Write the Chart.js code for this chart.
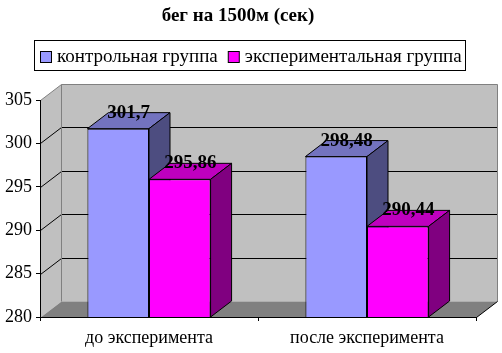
<!DOCTYPE html>
<html>
<head>
<meta charset="utf-8">
<script src="https://cdn.jsdelivr.net/npm/chart.js@4"></script>
<style>
  html, body { margin: 0; padding: 0; background: #fff; }
  #wrap { width: 502px; height: 353px; }
</style>
</head>
<body>
<div id="wrap"><canvas id="chart"></canvas></div>
<script>
// data
const categories = ["до эксперимента", "после эксперимента"];
const seriesNames = ["контрольная группа", "экспериментальная группа"];
const controlValues = [301.7, 298.48];
const experimentValues = [295.86, 290.44];
const yTicks = [280, 285, 290, 295, 300, 305];

// colours: front, top, side
const frontColors = ["#9999ff", "#ff00ff"];
const topColors = ["#7373bf", "#bf00bf"];
const sideColors = ["#4d4d80", "#800080"];

const depth = { dx: 21, dy: -16 };
const serif = "'Liberation Serif', 'Times New Roman', serif";

function poly(ctx, pts, fill, stroke) {
  ctx.beginPath();
  ctx.moveTo(pts[0][0], pts[0][1]);
  for (let i = 1; i < pts.length; i++) ctx.lineTo(pts[i][0], pts[i][1]);
  ctx.closePath();
  if (fill) { ctx.fillStyle = fill; ctx.fill(); }
  if (stroke) { ctx.strokeStyle = stroke; ctx.lineWidth = 1; ctx.stroke(); }
}

function line(ctx, x1, y1, x2, y2, color) {
  ctx.beginPath();
  ctx.moveTo(x1, y1);
  ctx.lineTo(x2, y2);
  ctx.strokeStyle = color;
  ctx.lineWidth = 1;
  ctx.stroke();
}

// walls, floor, grid, bar depth, value labels, legend
const walls3d = {
  id: "walls3d",
  beforeDraw(chart) {
    const { ctx, chartArea: a, scales: { y } } = chart;
    const { dx, dy } = depth;
    const L = a.left + 0.5, R = a.right + 0.5, T = a.top + 0.5, B = a.bottom + 0.5;
    ctx.save();
    poly(ctx, [[L, T], [L + dx, T + dy], [L + dx, B + dy], [L, B]], "#c0c0c0");
    poly(ctx, [[L + dx, T + dy], [R + dx, T + dy], [R + dx, B + dy], [L + dx, B + dy]], "#c0c0c0");
    poly(ctx, [[L, B], [R, B], [R + dx, B + dy], [L + dx, B + dy]], "#808080");

    yTicks.forEach(v => {
      if (v === yTicks[0] || v === yTicks[yTicks.length - 1]) return;
      const py = Math.round(y.getPixelForValue(v)) + 0.5;
      line(ctx, L, py, L + dx, py + dy, "#000");
      line(ctx, L + dx, py + dy, R + dx, py + dy, "#000");
    });
    // wall edges
    line(ctx, L, T, L + dx, T + dy, "#808080");
    line(ctx, L + dx, T + dy, R + dx, T + dy, "#808080");
    line(ctx, R + dx, T + dy, R + dx, B + dy, "#808080");
    line(ctx, L + dx, T + dy, L + dx, B + dy, "#808080");
    line(ctx, R, B, R + dx, B + dy, "#000");
    ctx.restore();
  },
  beforeDatasetsDraw(chart) {
    const { ctx, chartArea } = chart;
    const { dx, dy } = depth;
    ctx.save();
    chart.data.datasets.forEach((ds, i) => {
      chart.getDatasetMeta(i).data.forEach(bar => {
        const { x, y, base, width } = bar.getProps(["x", "y", "base", "width"], true);
        const b = Math.min(base, chartArea.bottom);
        const l = x - width / 2, r = x + width / 2;
        poly(ctx, [[l, y], [r, y], [r + dx, y + dy], [l + dx, y + dy]], topColors[i], "#000");
        poly(ctx, [[r, y], [r + dx, y + dy], [r + dx, b + dy], [r, b]], sideColors[i], "#000");
      });
    });
    ctx.restore();
  },
  afterDatasetsDraw(chart) {
    const { ctx } = chart;
    ctx.save();
    ctx.font = "bold 19px " + serif;
    ctx.fillStyle = "#000";
    ctx.textAlign = "center";
    ctx.textBaseline = "alphabetic";
    chart.data.datasets.forEach((ds, i) => {
      chart.getDatasetMeta(i).data.forEach((bar, j) => {
        const { x, y } = bar.getProps(["x", "y"], true);
        const txt = String(ds.data[j]).replace(".", ",");
        ctx.fillText(txt, x + depth.dx / 2, y - 11);
      });
    });
    ctx.restore();
  },
  afterDraw(chart) {
    const { ctx } = chart;
    ctx.save();
    ctx.strokeStyle = "#000";
    ctx.lineWidth = 1;
    ctx.strokeRect(34.5, 40.5, 431, 30);
    ctx.font = "19px " + serif;
    ctx.textBaseline = "middle";
    ctx.textAlign = "left";
    let x = 40;
    seriesNames.forEach((name, i) => {
      ctx.fillStyle = frontColors[i];
      ctx.fillRect(x + 0.5, 51.5, 11, 11);
      ctx.strokeRect(x + 0.5, 51.5, 11, 11);
      ctx.fillStyle = "#000";
      ctx.fillText(name, x + 17, 57);
      x += 17 + ctx.measureText(name).width + 10;
    });
    ctx.restore();
  }
};

new Chart(document.getElementById("chart"), {
  type: "bar",
  data: {
    labels: categories,
    datasets: [
      { label: seriesNames[0], data: controlValues, backgroundColor: frontColors[0] },
      { label: seriesNames[1], data: experimentValues, backgroundColor: frontColors[1] }
    ]
  },
  options: {
    responsive: true,
    maintainAspectRatio: false,
    animation: false,
    layout: { padding: { left: 0, right: 26, top: 0, bottom: 0 } },
    datasets: {
      bar: {
        borderColor: "#000",
        borderWidth: 1,
        categoryPercentage: 0.565,
        barPercentage: 1.0
      }
    },
    plugins: {
      legend: { display: false },
      tooltip: { enabled: false },
      title: {
        display: true,
        text: "бег на 1500м (сек)",
        color: "#000",
        font: { family: serif, size: 19, weight: "bold" },
        padding: { top: 5, bottom: 72.2 }
      }
    },
    scales: {
      x: {
        afterFit: s => { s.height = 36; },
        grid: { display: true, drawOnChartArea: false, drawTicks: true, tickLength: 4, color: "#000", offset: true },
        border: { display: true, color: "#000" },
        ticks: { color: "#000", padding: 6, font: { family: serif, size: 18 } }
      },
      y: {
        min: 280,
        max: 305,
        afterFit: s => { s.width = 40; },
        afterBuildTicks: s => { s.ticks = yTicks.map(v => ({ value: v })); },
        grid: { display: true, drawOnChartArea: false, drawTicks: true, tickLength: 4, color: "#000" },
        border: { display: true, color: "#000" },
        ticks: { color: "#000", padding: 4, font: { family: serif, size: 18 } }
      }
    }
  },
  plugins: [walls3d]
});
</script>
</body>
</html>
